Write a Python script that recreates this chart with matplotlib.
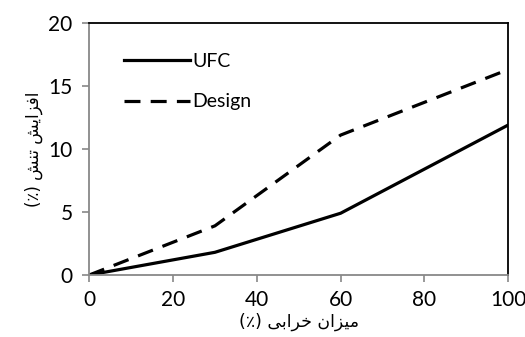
import numpy as np
import matplotlib
matplotlib.use("Agg")
import matplotlib.pyplot as plt

# data
damage = [0, 30, 60, 100]
ufc = [0, 1.8, 4.9, 11.9]
design = [0, 3.9, 11.1, 16.3]
xticks = [0, 20, 40, 60, 80, 100]
yticks = [0, 5, 10, 15, 20]

# Persian labels, pre-shaped (presentation forms) and in visual order,
# since matplotlib does no bidi/shaping on its own
xlabel = "(\u066a) " + "\ufef0\ufe91\ufe8d\ufeae\ufea7" + " " + "\ufee5\ufe8d\ufeb0\ufef4\ufee3"
ylabel = "(\u066a) " + "\ufeb6\ufee8\ufe97" + " " + "\ufeb6\ufef3\ufe8d\ufeb0\ufed3\ufe8d"

plt.rcParams['font.family'] = ['Lato', 'DejaVu Sans']

fig = plt.figure(figsize=(5.25, 3.37), dpi=100)
ax = fig.add_axes([0.170, 0.184, 0.798, 0.748])

ax.plot(damage, ufc, color='black', lw=2.3, label='UFC')
ax.plot(damage, design, color='black', lw=2.3, dashes=(5, 3.2), label='Design')

ax.set_xlim(0, 100)
ax.set_ylim(0, 20)
ax.set_xticks(xticks)
ax.set_yticks(yticks)
ax.tick_params(axis='both', labelsize=15, color='#888888', length=5, width=1.2, direction='out')
ax.tick_params(axis='x', pad=6)
ax.tick_params(axis='y', pad=7)

for s in ['left', 'bottom']:
    ax.spines[s].set_color('#888888')
    ax.spines[s].set_linewidth(1.3)
for s in ['top', 'right']:
    ax.spines[s].set_color('black')
    ax.spines[s].set_linewidth(1.3)

ax.set_xlabel(xlabel, fontsize=12.5, family='DejaVu Sans', labelpad=2)
ax.set_ylabel(ylabel, fontsize=12, family='DejaVu Sans', labelpad=4)

ax.legend(loc='upper left', bbox_to_anchor=(0.04, 0.95), frameon=False,
          fontsize=14, handlelength=3.4, handletextpad=0.15, labelspacing=1.2)

fig.savefig('out.png', dpi=100)
